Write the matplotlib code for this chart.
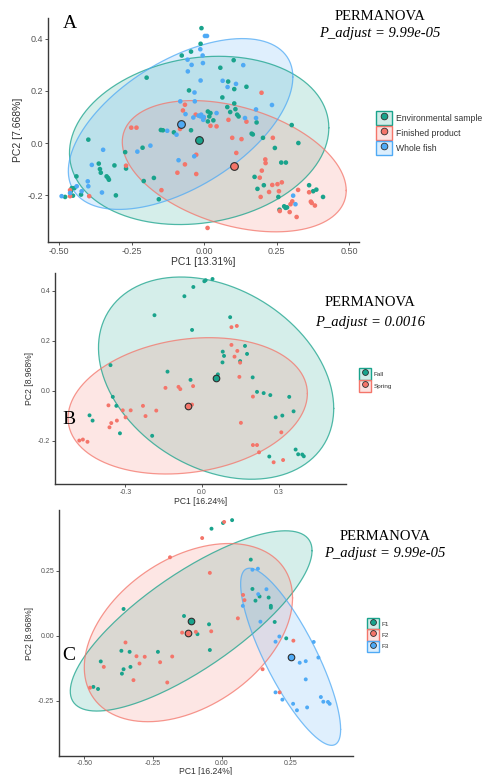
import numpy as np
import matplotlib
matplotlib.use("Agg")
import matplotlib.pyplot as plt
from matplotlib.lines import Line2D
from matplotlib.patches import Patch
from matplotlib.legend_handler import HandlerTuple

# ---------------- data ----------------
# Panel A: sample type
A_env_pc1 = [-0.009, -0.012, -0.077, -0.045, 0.102, -0.198, 0.056, -0.052, 0.083, 0.104, 0.146, 0.063,
             0.080, 0.104, 0.108, 0.013, 0.022, 0.090, 0.114, 0.119, 0.018, 0.013, 0.032, 0.181, 0.302,
             -0.149, -0.142, -0.045, -0.104, 0.164, 0.168, -0.399, 0.203, 0.325, -0.212, -0.272, 0.244,
             0.266, 0.282, -0.363, -0.359, -0.309, -0.269, -0.356, -0.336, -0.331, -0.328, -0.173, -0.208,
             0.174, 0.184, 0.206, -0.440, -0.447, -0.456, -0.156, 0.256, 0.362, 0.376, 0.387, -0.459,
             -0.424, -0.452, -0.479, -0.304, 0.410, 0.276, 0.281, 0.260, 0.286]
A_env_pc2 = [0.441, 0.381, 0.336, 0.351, 0.318, 0.251, 0.289, 0.202, 0.236, 0.207, 0.216, 0.175,
             0.138, 0.152, 0.130, 0.121, 0.115, 0.119, 0.109, 0.102, 0.102, 0.083, 0.087, 0.079, 0.069,
             0.050, 0.049, 0.049, 0.041, 0.036, 0.033, 0.013, 0.020, 0.000, -0.018, -0.035, -0.019,
             -0.075, -0.075, -0.079, -0.100, -0.086, -0.098, -0.114, -0.128, -0.134, -0.141, -0.134, -0.146,
             -0.130, -0.176, -0.162, -0.128, -0.173, -0.173, -0.216, -0.207, -0.162, -0.185, -0.179, -0.185,
             -0.198, -0.202, -0.207, -0.201, -0.207, -0.243, -0.249, -0.256, -0.247]
A_fin_pc1 = [0.198, -0.066, -0.073, -0.029, -0.001, 0.084, 0.146, 0.043, 0.022, -0.251, -0.233, -0.083,
             -0.078, 0.097, 0.129, 0.237, 0.111, -0.066, -0.027, 0.211, 0.212, -0.269, -0.092, -0.027,
             0.199, 0.192, 0.235, 0.253, 0.268, 0.258, -0.147, 0.195, 0.224, 0.324, 0.362, 0.371, 0.382,
             0.368, 0.304, 0.298, -0.462, -0.396, 0.261, 0.295, 0.319, 0.012, -0.462]
A_fin_pc2 = [0.193, 0.147, 0.125, 0.109, 0.095, 0.089, 0.082, 0.064, 0.066, 0.059, 0.059, 0.054,
             0.066, 0.020, 0.015, 0.020, -0.038, -0.082, -0.045, -0.063, -0.077, -0.087, -0.114, -0.119,
             -0.106, -0.133, -0.161, -0.158, -0.151, -0.185, -0.181, -0.207, -0.188, -0.180, -0.189, -0.230,
             -0.240, -0.225, -0.224, -0.235, -0.204, -0.204, -0.261, -0.265, -0.284, -0.326, -0.181]
A_fish_pc1 = [0.003, 0.010, -0.013, -0.057, -0.043, -0.004, -0.005, 0.135, -0.056, -0.012, 0.064, 0.081,
              0.110, -0.033, -0.032, -0.082, 0.234, 0.179, -0.064, -0.037, -0.019, -0.012, -0.001, -0.003,
              -0.010, 0.043, 0.141, 0.179, -0.095, -0.127, -0.185, -0.230, -0.348, -0.034, -0.088, -0.387,
              -0.401, -0.399, -0.439, -0.422, 0.307, 0.315, -0.491, -0.462, -0.352]
A_fish_pc2 = [0.411, 0.411, 0.360, 0.320, 0.300, 0.307, 0.336, 0.299, 0.275, 0.240, 0.239, 0.215,
              0.227, 0.194, 0.160, 0.160, 0.146, 0.129, 0.111, 0.098, 0.105, 0.102, 0.100, 0.089,
              0.109, 0.115, 0.096, 0.096, 0.032, 0.047, -0.010, -0.033, -0.026, -0.051, -0.066, -0.084,
              -0.147, -0.166, -0.166, -0.185, -0.202, -0.235, -0.204, -0.192, -0.190]
A_groups = ["Environmental sample", "Finished product", "Whole fish"]
A_centroid_pc1 = [-0.017, 0.104, -0.081]
A_centroid_pc2 = [0.010, -0.089, 0.073]
# 95% ellipses: half-extent along PC1 / PC2 and correlation, centred on the group centroid
A_ell_sx = [0.447, 0.386, 0.387]
A_ell_sy = [0.323, 0.252, 0.328]
A_ell_rho = [0.15, -0.37, 0.55]

# Panel B: season
B_fall_pc1 = [0.009, 0.014, 0.041, -0.034, -0.069, -0.186, 0.110, -0.039, 0.081, 0.086, 0.080, 0.168,
              0.176, 0.149, -0.358, -0.135, -0.045, 0.062, 0.198, 0.215, 0.241, 0.267, 0.341, -0.349,
              -0.335, -0.440, -0.428, -0.321, -0.195, 0.288, 0.314, 0.358, 0.366, 0.376, 0.392, 0.398, 0.263]
B_fall_pc2 = [0.439, 0.443, 0.448, 0.416, 0.379, 0.303, 0.295, 0.244, 0.157, 0.140, 0.114, 0.180,
              0.148, 0.119, 0.103, 0.077, 0.044, 0.066, 0.054, -0.004, -0.009, -0.017, -0.024, -0.024,
              -0.060, -0.098, -0.119, -0.170, -0.180, -0.106, -0.099, -0.082, -0.235, -0.254, -0.255, -0.262, -0.263]
B_spring_pc1 = [0.115, 0.136, 0.115, 0.127, 0.138, 0.149, 0.146, -0.092, -0.085, -0.143, -0.035, 0.199,
                -0.039, -0.366, -0.310, -0.279, -0.231, -0.221, -0.179, -0.299, -0.333, -0.355, -0.362,
                0.152, 0.310, 0.199, 0.215, 0.223, 0.280, 0.317, -0.480, -0.466, -0.448]
B_spring_pc2 = [0.255, 0.260, 0.184, 0.137, 0.160, 0.113, 0.056, 0.016, 0.007, 0.012, 0.019, -0.023,
                -0.055, -0.058, -0.078, -0.078, -0.060, -0.101, -0.079, -0.106, -0.119, -0.129, -0.146,
                -0.128, -0.166, -0.217, -0.217, -0.246, -0.286, -0.277, -0.199, -0.195, -0.204]
B_groups = ["Fall", "Spring"]
B_centroid_pc1 = [0.055, -0.056]
B_centroid_pc2 = [0.051, -0.060]
B_ell_sx = [0.460, 0.468]
B_ell_sy = [0.405, 0.273]
B_ell_rho = [-0.30, 0.18]

# Panel C: farm
C_f1_pc1 = [-0.037, 0.005, 0.038, 0.106, 0.112, 0.123, 0.138, 0.171, 0.179, 0.179, 0.193, 0.235,
            -0.137, -0.046, -0.088, -0.043, -0.357, -0.365, -0.335, -0.232, -0.440, -0.357, -0.332,
            -0.363, -0.467, -0.450]
C_f1_pc2 = [0.412, 0.434, 0.445, 0.293, 0.180, 0.135, 0.151, 0.147, 0.115, 0.108, 0.053, -0.010,
            0.076, 0.044, 0.006, -0.055, 0.103, -0.058, -0.062, -0.062, -0.099, -0.129, -0.120,
            -0.146, -0.197, -0.205]
C_f2_pc1 = [0.009, -0.071, -0.188, -0.043, 0.078, 0.083, 0.059, -0.144, -0.094, -0.038, -0.350, -0.310,
            -0.280, -0.299, -0.224, -0.180, -0.429, -0.321, -0.198, -0.479, 0.149, 0.211, 0.261]
C_f2_pc2 = [0.438, 0.376, 0.302, 0.242, 0.157, 0.137, 0.067, 0.012, 0.015, 0.017, -0.026, -0.079,
            -0.081, -0.107, -0.102, -0.080, -0.120, -0.171, -0.180, -0.200, -0.129, -0.218, -0.019]
C_f3_pc1 = [0.112, 0.132, 0.163, 0.133, 0.077, 0.141, 0.210, 0.196, 0.284, 0.306, 0.335, 0.352,
            0.306, 0.196, 0.221, 0.260, 0.274, 0.311, 0.361, 0.370, 0.387, 0.393]
C_f3_pc2 = [0.254, 0.258, 0.179, 0.160, 0.115, 0.054, -0.003, -0.023, -0.104, -0.098, -0.024, -0.084,
            -0.168, -0.218, -0.246, -0.262, -0.287, -0.276, -0.236, -0.254, -0.255, -0.262]
C_groups = ["F1", "F2", "F3"]
C_centroid_pc1 = [-0.111, -0.121, 0.251]
C_centroid_pc2 = [0.057, 0.012, -0.081]
C_ell_sx = [0.440, 0.379, 0.182]
C_ell_sy = [0.347, 0.343, 0.341]
C_ell_rho = [0.78, 0.39, -0.82]

# ---------------- styling ----------------
TEAL = "#19A38C"
RED = "#F4756A"
BLUE = "#4FAAF5"
TICK_COL = "#555555"
SERIF = "Liberation Serif"
SANS = "Liberation Sans"

W, H = 484, 775
fig = plt.figure(figsize=(W / 100, H / 100), dpi=100)


def px_axes(left, top, right, bottom):
    return fig.add_axes([left / W, 1 - bottom / H, (right - left) / W, (bottom - top) / H])


def ellipse_path(cx, cy, sx, sy, rho, n=240):
    t = np.linspace(0, 2 * np.pi, n)
    x = cx + sx * np.cos(t)
    y = cy + sy * (rho * np.cos(t) + np.sqrt(1 - rho ** 2) * np.sin(t))
    return x, y


def draw_panel(ax, series, colors, cpc1, cpc2, sx, sy, rho, pt_size):
    for i, col in enumerate(colors):
        ex, ey = ellipse_path(cpc1[i], cpc2[i], sx[i], sy[i], rho[i])
        ax.fill(ex, ey, facecolor=col, alpha=0.18, edgecolor="none", zorder=1)
        ax.plot(ex, ey, color=col, lw=0.9, alpha=0.75, zorder=2)
    for (px, py), col in zip(series, colors):
        ax.scatter(px, py, s=pt_size, color=col, edgecolors="none", zorder=3)
    for i, col in enumerate(colors):
        ax.scatter(cpc1[i], cpc2[i], s=pt_size * 2.8, color=col, edgecolors="#2e2e2e",
                   linewidths=0.8, zorder=4)


def style_axes(ax, xlim, ylim, xticks, yticks, xfmt, yfmt, tick_fs):
    ax.set_xlim(*xlim)
    ax.set_ylim(*ylim)
    ax.set_xticks(xticks)
    ax.set_yticks(yticks)
    ax.set_xticklabels([xfmt.format(v) for v in xticks], fontsize=tick_fs, color=TICK_COL, family=SANS)
    ax.set_yticklabels([yfmt.format(v) for v in yticks], fontsize=tick_fs, color=TICK_COL, family=SANS)
    for s in ("top", "right"):
        ax.spines[s].set_visible(False)
    for s in ("left", "bottom"):
        ax.spines[s].set_color("#3a3a3a")
        ax.spines[s].set_linewidth(1.0)
    ax.tick_params(length=2, width=0.6, color="#3a3a3a", pad=1.5)
    ax.set_facecolor("none")


def add_legend(labels, colors, anchor, fs, hlen, hhgt, spacing, dot_size):
    handles = []
    for col in colors:
        box = Patch(facecolor=matplotlib.colors.to_rgba(col, 0.2), edgecolor=col, linewidth=1.0)
        dot = Line2D([], [], ls="", marker="o", markersize=dot_size,
                     markerfacecolor=col, markeredgecolor="#2e2e2e", markeredgewidth=0.6)
        handles.append((box, dot))
    fig.legend(handles, labels, handler_map={tuple: HandlerTuple(ndivide=1, pad=0)},
               loc="center left", bbox_to_anchor=(anchor[0] / W, 1 - anchor[1] / H),
               frameon=False, handlelength=hlen, handleheight=hhgt,
               labelspacing=spacing, handletextpad=0.5, borderpad=0, borderaxespad=0,
               prop={"family": SANS, "size": fs}, labelcolor="#333333")


# ---------------- panel A ----------------
axA = px_axes(48, 18, 359, 242)
draw_panel(axA, [(A_env_pc1, A_env_pc2), (A_fin_pc1, A_fin_pc2), (A_fish_pc1, A_fish_pc2)],
           [TEAL, RED, BLUE], A_centroid_pc1, A_centroid_pc2, A_ell_sx, A_ell_sy, A_ell_rho, 11)
style_axes(axA, (-0.538, 0.534), (-0.38, 0.48), [-0.5, -0.25, 0.0, 0.25, 0.5], [-0.2, 0.0, 0.2, 0.4],
           "{:.2f}", "{:.1f}", 6.5)
axA.set_xlabel("PC1 [13.31%]", fontsize=7.5, family=SANS, color="#333333", labelpad=0.5)
axA.set_ylabel("PC2 [7.668%]", fontsize=7.5, family=SANS, color="#333333", labelpad=3)
add_legend(A_groups, [TEAL, RED, BLUE], (376, 133), 6.2, 1.8, 2.1, 0.12, 4.8)
fig.text(70 / W, 1 - 23 / H, "A", family=SERIF, fontsize=14, ha="center", va="center")
fig.text(380 / W, 1 - 17 / H, "PERMANOVA", family=SERIF, fontsize=10.5, ha="center", va="center")
fig.text(380 / W, 1 - 34 / H, "P_adjust = 9.99e-05", family=SERIF, style="italic", fontsize=10.5,
         ha="center", va="center")

# ---------------- panel B ----------------
axB = px_axes(55, 273, 346, 484)
draw_panel(axB, [(B_fall_pc1, B_fall_pc2), (B_spring_pc1, B_spring_pc2)],
           [TEAL, RED], B_centroid_pc1, B_centroid_pc2, B_ell_sx, B_ell_sy, B_ell_rho, 8)
style_axes(axB, (-0.575, 0.563), (-0.373, 0.472), [-0.3, 0.0, 0.3], [-0.2, 0.0, 0.2, 0.4],
           "{:.1f}", "{:.1f}", 5)
axB.set_xlabel("PC1 [16.24%]", fontsize=6.2, family=SANS, color="#333333", labelpad=1)
axB.set_ylabel("PC2 [8.968%]", fontsize=6.2, family=SANS, color="#333333", labelpad=3)
add_legend(B_groups, [TEAL, RED], (359, 380), 4.6, 1.8, 2.4, 0.15, 4.2)
fig.text(69 / W, 1 - 419 / H, "B", family=SERIF, fontsize=14, ha="center", va="center")
fig.text(370 / W, 1 - 303 / H, "PERMANOVA", family=SERIF, fontsize=10.5, ha="center", va="center")
fig.text(370 / W, 1 - 322 / H, "P_adjust = 0.0016", family=SERIF, style="italic", fontsize=10.5,
         ha="center", va="center")

# ---------------- panel C ----------------
axC = px_axes(59, 510, 353, 756)
draw_panel(axC, [(C_f1_pc1, C_f1_pc2), (C_f2_pc1, C_f2_pc2), (C_f3_pc1, C_f3_pc2)],
           [TEAL, RED, BLUE], C_centroid_pc1, C_centroid_pc2, C_ell_sx, C_ell_sy, C_ell_rho, 8)
style_axes(axC, (-0.592, 0.478), (-0.463, 0.484), [-0.5, -0.25, 0.0, 0.25], [-0.25, 0.0, 0.25],
           "{:.2f}", "{:.2f}", 5)
axC.tick_params(axis="x", pad=1)
axC.set_xlabel("PC1 [16.24%]", fontsize=6.2, family=SANS, color="#333333", labelpad=0)
axC.set_ylabel("PC2 [8.968%]", fontsize=6.2, family=SANS, color="#333333", labelpad=3)
add_legend(C_groups, [TEAL, RED, BLUE], (367, 635), 4.6, 1.8, 2.3, 0.05, 4.2)
fig.text(69 / W, 1 - 656 / H, "C", family=SERIF, fontsize=14, ha="center", va="center")
fig.text(385 / W, 1 - 537 / H, "PERMANOVA", family=SERIF, fontsize=10.5, ha="center", va="center")
fig.text(385 / W, 1 - 553 / H, "P_adjust = 9.99e-05", family=SERIF, style="italic", fontsize=10.5,
         ha="center", va="center")

fig.savefig("out.png", dpi=100)
